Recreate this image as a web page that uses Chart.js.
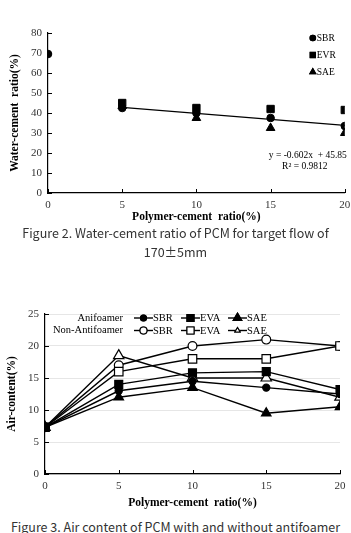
<!DOCTYPE html>
<html>
<head>
<meta charset="utf-8">
<script src="https://cdn.jsdelivr.net/npm/chart.js@4.4.0/dist/chart.umd.min.js"></script>
<style>
  html, body { margin: 0; padding: 0; background: #fff; }
  body { width: 351px; height: 533px; position: relative; overflow: hidden; }
  .box { position: absolute; left: 0; width: 351px; }
  .cap { position: absolute; left: 0; width: 351px; text-align: center;
         font-family: "Noto Sans CJK KR", "Noto Sans", sans-serif; font-size: 12.5px;
         color: #333; line-height: 19px; white-space: nowrap; }
</style>
</head>
<body>
<div class="box" style="top:0;height:226px"><canvas id="wcChart"></canvas></div>
<div class="cap" style="top:223px">Figure 2. Water-cement ratio of PCM for target flow of<br>170±5mm</div>
<div class="box" style="top:290px;height:222px"><canvas id="airChart"></canvas></div>
<div class="cap" style="top:517px">Figure 3. Air content of PCM with and without antifoamer</div>
<script>
// Polymer-cement ratio (%)
const ratios = [0, 5, 10, 15, 20];

// Figure 2 - water-cement ratio (%)
const wcSBR = [69.5, 42.5, 40, 37.5, 33.5];
const wcEVR = [null, 45, 42.5, 42, 41.5];
const wcSAE = [null, 43.5, 37.5, 32.5, 30];
const trendX = [5, 20];
const trendY = [42.8, 33.8];

// Figure 3 - air content (%)
const antiSBR = [7.3, 13, 14.5, 13.5, 12.5];
const antiEVA = [7.3, 14, 15.8, 16, 13.2];
const antiSAE = [7.3, 12, 13.5, 9.5, 10.5];
const nonSBR = [7.3, 17, 20, 21, 20];
const nonEVA = [7.3, 16, 18, 18, 20];
const nonSAE = [7.3, 18.5, 15, 15, 12];

const serif = '"Liberation Serif", "DejaVu Serif", serif';

function pts(xs, ys) {
    return xs.map((x, i) => ({ x: x, y: ys[i] })).filter(p => p.y !== null);
}

// small tick marks on the inside of both axes
const innerTicks = {
    id: 'innerTicks',
    afterDraw(chart) {
        const ctx = chart.ctx;
        const area = chart.chartArea;
        ctx.save();
        ctx.strokeStyle = '#000';
        ctx.lineWidth = 1;
        chart.scales.x.ticks.forEach(t => {
            const px = Math.round(chart.scales.x.getPixelForValue(t.value)) + 0.5;
            ctx.beginPath();
            ctx.moveTo(px, area.bottom);
            ctx.lineTo(px, area.bottom - 4);
            ctx.stroke();
        });
        chart.scales.y.ticks.forEach(t => {
            const py = Math.round(chart.scales.y.getPixelForValue(t.value)) + 0.5;
            ctx.beginPath();
            ctx.moveTo(area.left, py);
            ctx.lineTo(area.left + 4, py);
            ctx.stroke();
        });
        ctx.restore();
    }
};

function axisOpts(max, step, title, fitSize, grid, titlePad) {
    return {
        type: 'linear', min: 0, max: max,
        ticks: { stepSize: step, color: '#333', font: { family: serif, size: 11 }, padding: 6 },
        grid: grid,
        border: { color: '#000', width: 1.2 },
        title: { display: true, text: title, color: '#000', padding: titlePad,
                 font: { family: serif, size: 11.5, weight: 'bold' } },
        afterFit: fitSize
    };
}

// ---- Figure 2 ----
const wcNotes = {
    id: 'wcNotes',
    afterDraw(chart) {
        const ctx = chart.ctx;
        const area = chart.chartArea;
        ctx.save();
        ctx.fillStyle = '#000';
        ctx.strokeStyle = '#000';
        ctx.font = '9.5px ' + serif;
        ctx.textBaseline = 'middle';
        const items = [['circle', 'SBR'], ['rect', 'EVR'], ['triangle', 'SAE']];
        items.forEach((it, i) => {
            const y = area.top + 5 + i * 17;
            Chart.helpers.drawPoint(ctx, { pointStyle: it[0], radius: it[0] === 'circle' ? 3.3 : 4.5, borderWidth: 0 }, area.right - 32, y);
            ctx.fill();
            ctx.fillText(it[1], area.right - 28, y);
        });
        ctx.textAlign = 'center';
        ctx.fillText('y = -0.602x  + 45.85', area.right - 37, area.top + 122);
        ctx.fillText('R\u00b2 = 0.9812', area.right - 40, area.top + 133);
        ctx.restore();
    }
};

new Chart(document.getElementById('wcChart'), {
    type: 'scatter',
    data: {
        datasets: [
            { label: 'trend', data: pts(trendX, trendY), showLine: true, borderColor: '#000', borderWidth: 1.2, pointRadius: 0 },
            { label: 'SAE', data: pts(ratios, wcSAE), pointStyle: 'triangle', pointRadius: 5, backgroundColor: '#000', borderColor: '#000' },
            { label: 'SBR', data: pts(ratios, wcSBR), pointStyle: 'circle', pointRadius: 3.8, backgroundColor: '#000', borderColor: '#000' },
            { label: 'EVR', data: pts(ratios, wcEVR), pointStyle: 'rect', pointRadius: 5.2, backgroundColor: '#000', borderColor: '#000' }
        ]
    },
    options: {
        responsive: true, maintainAspectRatio: false, animation: false,
        layout: { padding: { top: 33, right: 0, left: 0, bottom: 0 } },
        plugins: { legend: { display: false }, tooltip: { enabled: false } },
        scales: {
            x: axisOpts(20, 5, 'Polymer-cement  ratio(%)', s => { s.height = 33; s.paddingRight = 6; }, { drawOnChartArea: false, drawTicks: false }, { top: 0, bottom: 2 }),
            y: axisOpts(80, 10, 'Water-cement  ratio(%)', s => { s.width = 48; }, { drawOnChartArea: false, drawTicks: false }, { top: 8, bottom: 0 })
        }
    },
    plugins: [innerTicks, wcNotes]
});

// ---- Figure 3 ----
const airLegend = {
    id: 'airLegend',
    afterDraw(chart) {
        const ctx = chart.ctx;
        const area = chart.chartArea;
        ctx.save();
        ctx.font = '10.5px ' + serif;
        ctx.textBaseline = 'middle';
        const rows = [['Anifoamer', '#000'], ['Non-Antifoamer', '#fff']];
        const kinds = [['circle', 'SBR', 3], ['rect', 'EVA', 5], ['triangle', 'SAE', 5]];
        rows.forEach((row, r) => {
            const y = area.top + 4 + r * 12.5;
            ctx.fillStyle = '#000';
            ctx.textAlign = 'right';
            ctx.fillText(row[0], area.left + 78, y);
            ctx.textAlign = 'left';
            kinds.forEach((k, i) => {
                const x0 = area.left + 89 + i * 47;
                ctx.strokeStyle = '#000';
                ctx.lineWidth = 1.4;
                ctx.beginPath();
                ctx.moveTo(x0, y);
                ctx.lineTo(x0 + 19, y);
                ctx.stroke();
                const rad = r === 1 && k[0] === 'circle' ? 3.5 : (r === 1 && k[0] === 'triangle' ? 3 : k[2]);
                ctx.fillStyle = row[1];
                ctx.lineWidth = 1.1;
                Chart.helpers.drawPoint(ctx, { pointStyle: k[0], radius: rad, borderWidth: 1.1 }, x0 + 9.5, y);
                ctx.fill();
                ctx.stroke();
                ctx.fillStyle = '#000';
                ctx.fillText(k[1], x0 + 19, y + 0.5);
            });
        });
        ctx.restore();
    }
};

function airSet(label, ys, style, radius, fill) {
    return {
        label: label, data: pts(ratios, ys), showLine: true,
        borderColor: '#000', borderWidth: 1.4,
        pointStyle: style, pointRadius: radius, pointBorderWidth: 1.2,
        pointBackgroundColor: fill, pointBorderColor: '#000'
    };
}

new Chart(document.getElementById('airChart'), {
    type: 'scatter',
    data: {
        datasets: [
            airSet('SBR anti', antiSBR, 'circle', 3.6, '#000'),
            airSet('SAE anti', antiSAE, 'triangle', 5.5, '#000'),
            airSet('EVA anti', antiEVA, 'rect', 5.6, '#000'),
            airSet('SAE non', nonSAE, 'triangle', 6, '#fff'),
            airSet('EVA non', nonEVA, 'rect', 6, '#fff'),
            airSet('SBR non', nonSBR, 'circle', 4.4, '#fff')
        ]
    },
    options: {
        responsive: true, maintainAspectRatio: false, animation: false,
        layout: { padding: { top: 24, right: 0, left: 0, bottom: 0 } },
        plugins: { legend: { display: false }, tooltip: { enabled: false } },
        scales: {
            x: axisOpts(20, 5, 'Polymer-cement  ratio(%)', s => { s.height = 38; s.paddingRight = 11; }, { drawOnChartArea: false, drawTicks: false }, { top: 0, bottom: 2 }),
            y: axisOpts(25, 5, 'Air-content(%)', s => { s.width = 45; }, { color: '#e6e6e6', drawTicks: false }, { top: 5, bottom: 0 })
        }
    },
    plugins: [innerTicks, airLegend]
});
</script>
</body>
</html>
